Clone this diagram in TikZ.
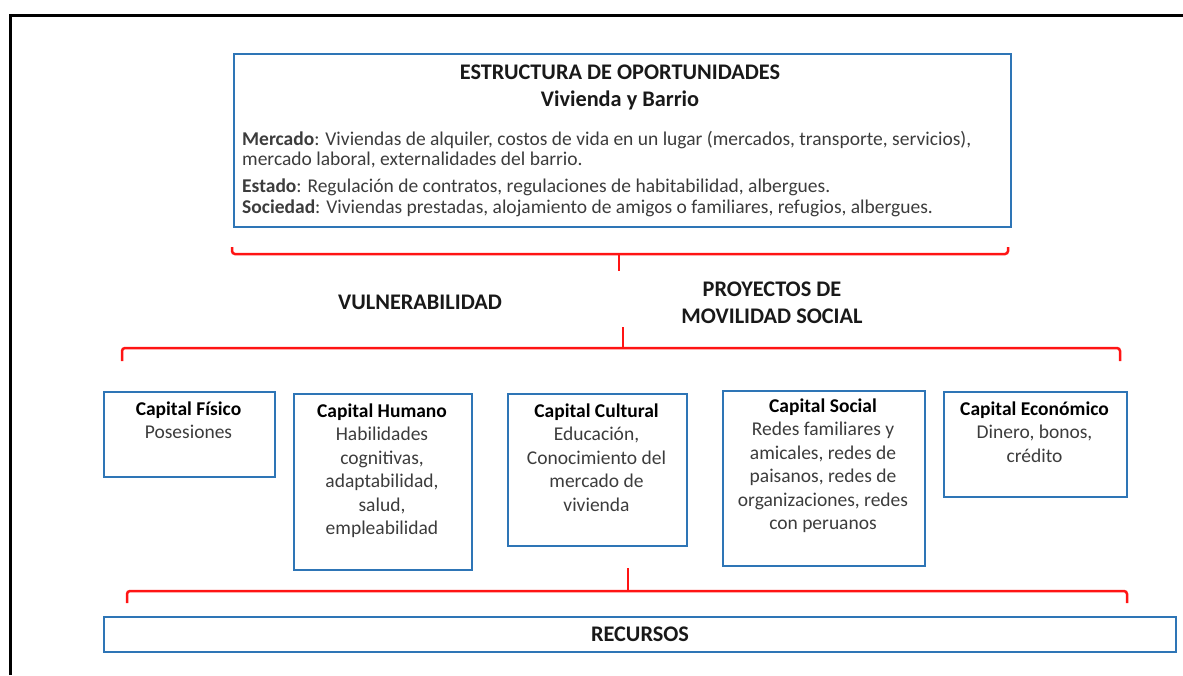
\documentclass[tikz,border=0pt]{standalone}
\usepackage{fontspec}
\setmainfont{Carlito}
\usetikzlibrary{calc,positioning}
\definecolor{boxblue}{RGB}{46,117,182}
\definecolor{brred}{RGB}{255,20,20}
\definecolor{txtgray}{RGB}{60,60,60}

\begin{document}
\begin{tikzpicture}[x=1pt,y=-1pt,
  capbox/.style={draw=boxblue,line width=2pt,anchor=north west,inner sep=0pt},
  captext/.style={anchor=base,align=center,inner sep=0pt,text=txtgray,
    font=\fontsize{19.5}{23.5}\selectfont},
  headtext/.style={align=center,inner sep=0pt,text=black!90,
    font=\bfseries\fontsize{22.3}{27}\selectfont},
  bracket/.style={draw=brred,line width=2.5pt,rounded corners=3pt}]
  \useasboundingbox (0,0) rectangle (1183,675);
  % page frame
  \draw[line width=3pt] (10,675) -- (10,15) -- (1183,15);
  % top box
  \node[capbox,minimum width=777pt,minimum height=173pt] (estr) at (233,53) {};
  \node[headtext,anchor=base] (estrT) at (620,106)
    {ESTRUCTURA DE OPORTUNIDADES\\Vivienda y Barrio};
  \node[captext,anchor=base west,align=left,font=\fontsize{19.5}{20.5}\selectfont] (estrB) at (242,213)
    {\textbf{Mercado}: Viviendas de alquiler, costos de vida en un lugar (mercados, transporte, servicios),\\
     mercado laboral, externalidades del barrio.\\[6.5pt]
     \textbf{Estado}: Regulación de contratos, regulaciones de habitabilidad, albergues.\\
     \textbf{Sociedad}: Viviendas prestadas, alojamiento de amigos o familiares, refugios, albergues.};
  % upper bracket
  \draw[bracket] (232,247) -- (232,254) -- (1008,254) -- (1008,247);
  \draw[bracket] (619,254) -- (619,271);
  % labels
  \node[headtext] (vuln) at (420,302) {VULNERABILIDAD};
  \node[headtext,anchor=base] (proy) at (772,323) {PROYECTOS DE\\MOVILIDAD SOCIAL};
  % middle bracket
  \draw[bracket] (122,361) -- (122,348) -- (1120,348) -- (1120,361);
  \draw[bracket] (623,348) -- (623,327);
  % capital boxes
  \node[capbox,minimum width=171pt,minimum height=85pt] (fis) at (103,391) {};
  \node[capbox,minimum width=178pt,minimum height=176pt] (hum) at (293,393) {};
  \node[capbox,minimum width=179pt,minimum height=152pt] (cul) at (507,393) {};
  \node[capbox,minimum width=202pt,minimum height=175pt] (soc) at (722,390) {};
  \node[capbox,minimum width=183pt,minimum height=105pt] (eco) at (943,391) {};
  \node[captext] (fisT) at (188.5,438.5) {\textcolor{black}{\textbf{Capital Físico}}\\Posesiones};
  \node[captext] (humT) at (382,534.5) {\textcolor{black}{\textbf{Capital Humano}}\\Habilidades\\cognitivas,\\adaptabilidad,\\salud,\\empleabilidad};
  \node[captext] (culT) at (596.5,511) {\textcolor{black}{\textbf{Capital Cultural}}\\Educación,\\Conocimiento del\\mercado de\\vivienda};
  \node[captext] (socT) at (823,529.5) {\textcolor{black}{\textbf{Capital Social}}\\Redes familiares y\\amicales, redes de\\paisanos, redes de\\organizaciones, redes\\con peruanos};
  \node[captext] (ecoT) at (1034.5,462) {\textcolor{black}{\textbf{Capital Económico}}\\Dinero, bonos,\\crédito};
  % lower bracket
  \draw[bracket] (127,603) -- (127,591) -- (1127,591) -- (1127,603);
  \draw[bracket] (628,591) -- (628,568);
  % resources bar
  \node[capbox,minimum width=1072pt,minimum height=35pt,
    font=\bfseries\fontsize{22.3}{27}\selectfont,text=black!90] (rec) at (103,616) {RECURSOS};
\end{tikzpicture}
\end{document}
